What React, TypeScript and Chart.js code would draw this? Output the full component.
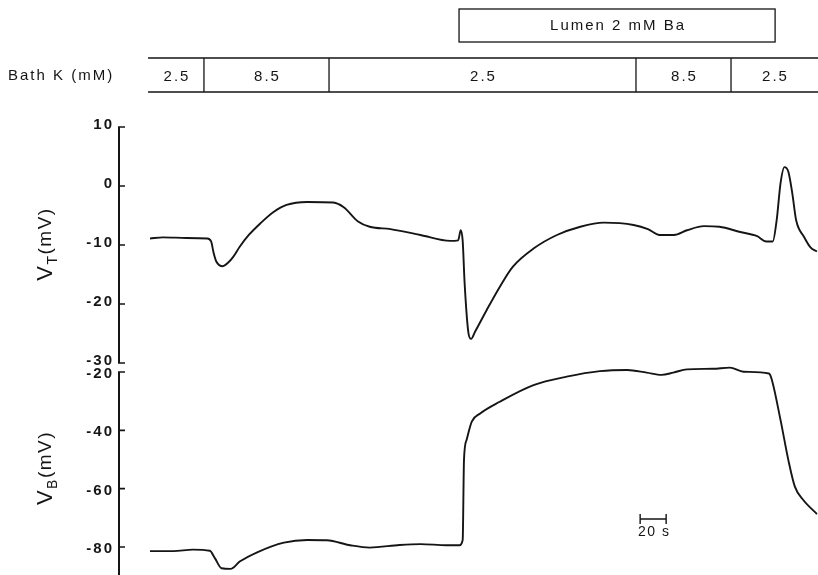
import React, { useEffect, useRef } from 'react';
import { Chart, registerables } from 'chart.js';

Chart.register(...registerables);

// Time (s) and transepithelial voltage V_T (mV)
const TIME_T = [0, 10, 28, 44, 47, 49, 51, 56, 60, 64, 69, 76, 85, 95, 105, 121, 141, 149, 160, 169, 185, 208, 231, 237, 239, 240.5, 242, 245, 247, 250, 259, 269, 279, 295, 313, 331, 349, 372, 383, 392, 403, 413, 426, 438, 454, 467, 474, 479, 482, 485, 488, 491, 494, 497, 503, 508, 513];
const V_T = [-8.9, -8.7, -8.8, -8.9, -9.4, -11.4, -12.8, -13.6, -13.0, -12.0, -10.3, -8.3, -6.3, -4.4, -3.2, -2.7, -2.8, -3.6, -6.0, -6.9, -7.3, -8.3, -9.3, -9.2, -7.5, -9.3, -16.5, -25.0, -25.9, -24.7, -21.0, -17.1, -13.7, -10.6, -8.3, -6.9, -6.2, -6.6, -7.3, -8.3, -8.3, -7.5, -6.8, -6.9, -7.8, -8.5, -9.4, -9.4, -5.8, 0.5, 3.2, 2.4, -1.2, -5.8, -8.6, -10.4, -11.1];

// Time (s) and basolateral voltage V_B (mV)
const TIME_B = [0, 18, 33, 46, 50, 55, 62, 69, 82, 103, 121, 136, 154, 169, 192, 208, 228, 238, 240.5, 241.5, 243.5, 247.5, 254, 269, 295, 320.5, 346, 367, 382, 393.5, 402.5, 413, 433, 446, 456.5, 476, 478, 485, 491, 496, 502.5, 513];
const V_B = [-81.4, -81.4, -80.9, -81.3, -83.9, -87.3, -87.5, -85.0, -81.9, -78.5, -77.6, -77.7, -79.4, -80.2, -79.3, -79.0, -79.4, -79.4, -77.6, -50.2, -43.3, -37.0, -34.2, -30.2, -24.5, -21.6, -19.7, -19.3, -20.2, -21.0, -20.2, -19.1, -18.9, -18.5, -19.9, -20.5, -22.2, -36.5, -50.2, -59.3, -63.9, -68.7];

const TICKS_T = [10, 0, -10, -20, -30];
const TICKS_B = [-20, -40, -60, -80];

// Bath K periods (s) and concentrations (mM)
const BATH_EDGES = [-1.5, 41.5, 137.7, 373.8, 446.9, 560];
const BATH_K = ['2.5', '8.5', '2.5', '8.5', '2.5'];
const BATH_LABEL = 'Bath K (mM)';
// Lumen Ba period (s)
const LUMEN = [237.7, 480.8];
const LUMEN_LABEL = 'Lumen 2 mM Ba';
// Time scale bar (s)
const SCALE_BAR = [377, 397];
const SCALE_LABEL = '20 s';

const FONT = '"Liberation Sans", Arial, sans-serif';
const INK = '#151515';

function drawRich(ctx: CanvasRenderingContext2D, parts: { t: string; size: number; dy: number }[], cx: number, cy: number, rot: number) {
  ctx.save();
  ctx.translate(cx, cy);
  ctx.rotate(rot);
  ctx.textBaseline = 'middle';
  ctx.textAlign = 'left';
  let total = 0;
  const widths = parts.map((p) => {
    ctx.font = `${p.size}px ${FONT}`;
    const w = ctx.measureText(p.t).width;
    total += w;
    return w;
  });
  let x = -total / 2;
  parts.forEach((p, i) => {
    ctx.font = `${p.size}px ${FONT}`;
    ctx.fillText(p.t, x, p.dy);
    x += widths[i];
  });
  ctx.restore();
}

const decor = {
  id: 'decor',
  beforeDraw(chart: any) {
    (chart.ctx as any).letterSpacing = '2px';
  },
  afterDraw(chart: any) {
    const ctx: CanvasRenderingContext2D = chart.ctx;
    const xs = chart.scales.x;
    const yT = chart.scales.yT;
    const yB = chart.scales.yB;
    const area = chart.chartArea;
    ctx.save();
    (ctx as any).letterSpacing = '0px';
    ctx.strokeStyle = INK;
    ctx.fillStyle = INK;
    ctx.lineCap = 'butt';

    // Axes
    const ax = area.left;
    ctx.lineWidth = 2;
    ctx.beginPath();
    ctx.moveTo(ax, yT.getPixelForValue(TICKS_T[0]));
    ctx.lineTo(ax, yT.getPixelForValue(TICKS_T[TICKS_T.length - 1]));
    ctx.moveTo(ax, yB.getPixelForValue(TICKS_B[0]));
    ctx.lineTo(ax, area.bottom);
    ctx.stroke();
    ctx.lineWidth = 1.6;
    ctx.beginPath();
    TICKS_T.forEach((v) => {
      const y = yT.getPixelForValue(v);
      ctx.moveTo(ax - 1, y);
      ctx.lineTo(ax + 6, y);
    });
    TICKS_B.forEach((v) => {
      const y = yB.getPixelForValue(v);
      ctx.moveTo(ax - 1, y);
      ctx.lineTo(ax + 6, y);
    });
    ctx.stroke();

    // Bath K row
    const rowTop = 58;
    const rowBot = 92;
    const x0 = xs.getPixelForValue(BATH_EDGES[0]);
    const xEnd = Math.min(xs.getPixelForValue(BATH_EDGES[BATH_EDGES.length - 1]), chart.width);
    ctx.lineWidth = 1.3;
    ctx.beginPath();
    ctx.moveTo(x0, rowTop);
    ctx.lineTo(xEnd, rowTop);
    ctx.moveTo(x0, rowBot);
    ctx.lineTo(xEnd, rowBot);
    for (let i = 1; i < BATH_EDGES.length - 1; i++) {
      const x = xs.getPixelForValue(BATH_EDGES[i]);
      ctx.moveTo(x, rowTop);
      ctx.lineTo(x, rowBot);
    }
    ctx.stroke();
    (ctx as any).letterSpacing = '2px';
    ctx.font = `15px ${FONT}`;
    ctx.textAlign = 'center';
    ctx.textBaseline = 'middle';
    BATH_K.forEach((lab, i) => {
      const a = xs.getPixelForValue(BATH_EDGES[i]);
      const b = Math.min(xs.getPixelForValue(BATH_EDGES[i + 1]), area.right);
      ctx.fillText(lab, (a + b) / 2 + 1, 77);
    });
    ctx.textAlign = 'left';
    (ctx as any).letterSpacing = '2px';
    ctx.font = `15px ${FONT}`;
    ctx.fillText(BATH_LABEL, 8, 76);

    // Lumen box
    const l0 = xs.getPixelForValue(LUMEN[0]);
    const l1 = xs.getPixelForValue(LUMEN[1]);
    ctx.lineWidth = 1.3;
    ctx.strokeRect(l0, 9, l1 - l0, 33);
    (ctx as any).letterSpacing = '2px';
    ctx.font = `15px ${FONT}`;
    ctx.textAlign = 'center';
    ctx.fillText(LUMEN_LABEL, (l0 + l1) / 2 + 1, 26);

    // Scale bar
    const s0 = xs.getPixelForValue(SCALE_BAR[0]);
    const s1 = xs.getPixelForValue(SCALE_BAR[1]);
    const sy = 519;
    ctx.lineWidth = 1.4;
    ctx.beginPath();
    ctx.moveTo(s0, sy);
    ctx.lineTo(s1, sy);
    ctx.moveTo(s0, sy - 5);
    ctx.lineTo(s0, sy + 5);
    ctx.moveTo(s1, sy - 5);
    ctx.lineTo(s1, sy + 5);
    ctx.stroke();
    (ctx as any).letterSpacing = '1.5px';
    ctx.font = `14px ${FONT}`;
    ctx.fillText(SCALE_LABEL, (s0 + s1) / 2 + 1, 532);

    // Axis titles
    (ctx as any).letterSpacing = '1.5px';
    drawRich(ctx, [
      { t: 'V', size: 22, dy: 0 },
      { t: 'T', size: 14, dy: 7 },
      { t: '(mV)', size: 19, dy: 0 },
    ], 46, 244, -Math.PI / 2);
    drawRich(ctx, [
      { t: 'V', size: 22, dy: 0 },
      { t: 'B', size: 14, dy: 7 },
      { t: '(mV)', size: 19, dy: 0 },
    ], 46, 468, -Math.PI / 2);

    ctx.restore();
  },
};

export default function App() {
  const ref = useRef<HTMLCanvasElement | null>(null);
  useEffect(() => {
    if (!ref.current) return;
    const tickFont = { family: FONT, size: 15, weight: 'bold' as const };
    const fit = (s: any) => {
      s.width = 119;
      s.paddingTop = 0;
      s.paddingBottom = 0;
      s.paddingLeft = 0;
      s.paddingRight = 0;
    };
    const chart = new Chart(ref.current, {
      type: 'line',
      data: {
        datasets: [
          {
            label: 'VT',
            data: TIME_T.map((t, i) => ({ x: t, y: V_T[i] })),
            xAxisID: 'x',
            yAxisID: 'yT',
            borderColor: INK,
            borderWidth: 1.9,
            pointRadius: 0,
            cubicInterpolationMode: 'monotone',
            clip: false as any,
          },
          {
            label: 'VB',
            data: TIME_B.map((t, i) => ({ x: t, y: V_B[i] })),
            xAxisID: 'x',
            yAxisID: 'yB',
            borderColor: INK,
            borderWidth: 1.9,
            pointRadius: 0,
            cubicInterpolationMode: 'monotone',
            clip: false as any,
          },
        ],
      },
      options: {
        responsive: false,
        animation: false,
        devicePixelRatio: 1,
        events: [],
        layout: { padding: { top: 127, left: 0, right: 0, bottom: 0 } },
        plugins: { legend: { display: false }, tooltip: { enabled: false } },
        scales: {
          x: { type: 'linear', min: -23.85, max: 513.8, display: false },
          yT: {
            type: 'linear',
            position: 'left',
            stack: 'v',
            stackWeight: 239,
            weight: 1,
            min: -30.5,
            max: 10,
            grid: { display: false, drawTicks: false },
            border: { display: false },
            ticks: { font: tickFont, color: INK, padding: 5, autoSkip: false, labelOffset: -2 },
            afterBuildTicks: (s: any) => { s.ticks = TICKS_T.map((v) => ({ value: v })); },
            afterFit: fit,
          },
          yB: {
            type: 'linear',
            position: 'left',
            stack: 'v',
            stackWeight: 209,
            weight: 0,
            min: -89.6,
            max: -17.94,
            grid: { display: false, drawTicks: false },
            border: { display: false },
            ticks: { font: tickFont, color: INK, padding: 5, autoSkip: false, labelOffset: 2 },
            afterBuildTicks: (s: any) => { s.ticks = TICKS_B.map((v) => ({ value: v })); },
            afterFit: fit,
          },
        } as any,
      },
      plugins: [decor],
    });
    return () => chart.destroy();
  }, []);
  return (
    <div style={{ position: 'fixed', left: 0, top: 0, width: 818, height: 575, background: '#fff' }}>
      <canvas ref={ref} width={818} height={575} style={{ width: 818, height: 575, display: 'block' }} />
    </div>
  );
}
